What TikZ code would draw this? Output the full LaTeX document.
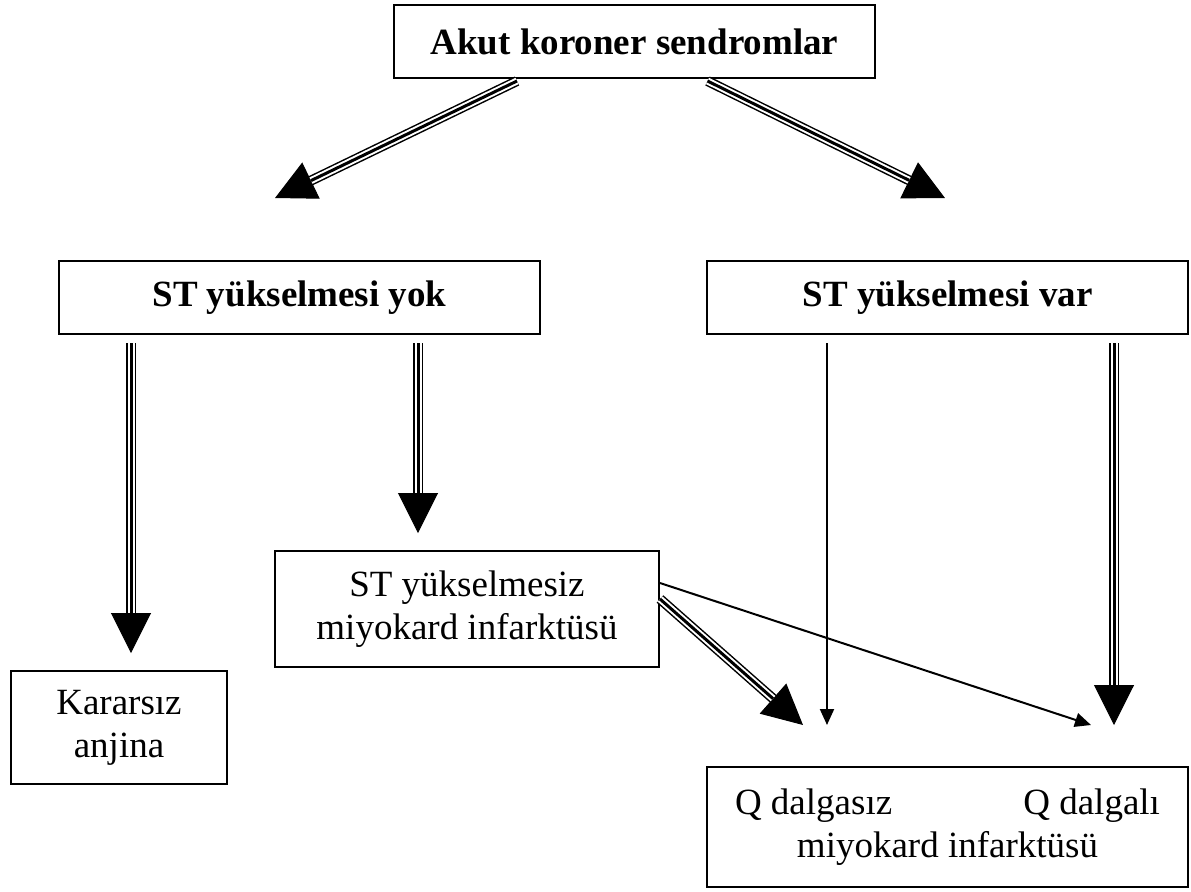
\documentclass[tikz,border=0pt]{standalone}
\usepackage{fontspec}
\setmainfont{Liberation Serif}
\usepackage{tikz}
\usetikzlibrary{arrows.meta}
\usetikzlibrary{calc}
\tikzset{
	main node/.style={draw,line width=1pt,inner sep=0pt,align=center,font=\fontsize{18.5}{21.5}\selectfont},
	title node/.style={main node,font=\fontsize{18.5}{21.5}\selectfont\bfseries,
		minimum width=240.5pt,minimum height=36.5pt},
	triple arrow/.style={line width=5pt,-{Triangle[length=20pt,width=20pt,line width=0.5pt]},
		postaction={draw=white,line width=3.5pt,-,shorten >=20pt},
		postaction={draw=black,line width=1.5pt,-,shorten >=20pt}},
	thin arrow/.style={line width=1pt,-{Triangle[length=8pt,width=7pt]}}
}

\begin{document}
\begin{tikzpicture}[x=0.5pt,y=-0.5pt]
	\useasboundingbox (0,0) rectangle (1191,891);
	\node [title node] (akut) at (634.5,41.5) {Akut koroner sendromlar};
	\node [title node] (yok) at (299.5,297.5) {ST yükselmesi yok};
	\node [title node] (var) at (947.5,297.5) {ST yükselmesi var};
	\node [main node,minimum width=108pt,minimum height=56.5pt] (kararsiz) at (119,727.5) {Kararsız\\anjina};
	\node [main node,minimum width=192pt,minimum height=58pt] (stmi) at (467,609) {ST yükselmesiz\\miyokard infarktüsü};
	\node [main node,minimum width=240.5pt,minimum height=60pt] (qmi) at (947.5,827)
		{\makebox[212.5pt]{Q dalgasız\hfill Q dalgalı}\\miyokard infarktüsü};
	% free ends of the arrows
	\coordinate (t1) at (275,198);
	\coordinate (t2) at (945,198);
	\coordinate (t3) at (131,653);
	\coordinate (t4) at (418,533);
	\coordinate (t5) at (827,725);
	\coordinate (t6) at (1114,725);
	\coordinate (t7) at (1091,725);
	\coordinate (t8) at (803,725);
	\draw [triple arrow] ($(akut.south)+(-117.5,2)$) -- (t1);
	\draw [triple arrow] ($(akut.south)+(73,2)$) -- (t2);
	\draw [triple arrow] ($(yok.south)+(-168.5,8)$) -- (t3);
	\draw [triple arrow] ($(yok.south)+(118.5,8)$) -- (t4);
	\draw [thin arrow] ($(var.south)+(-120.5,8)$) -- (t5);
	\draw [triple arrow] ($(var.south)+(166.5,8)$) -- (t6);
	\draw [thin arrow] ($(stmi.east)+(0,-26)$) -- (t7);
	\draw [triple arrow] ($(stmi.east)+(0,-10)$) -- (t8);
\end{tikzpicture}
\end{document}
